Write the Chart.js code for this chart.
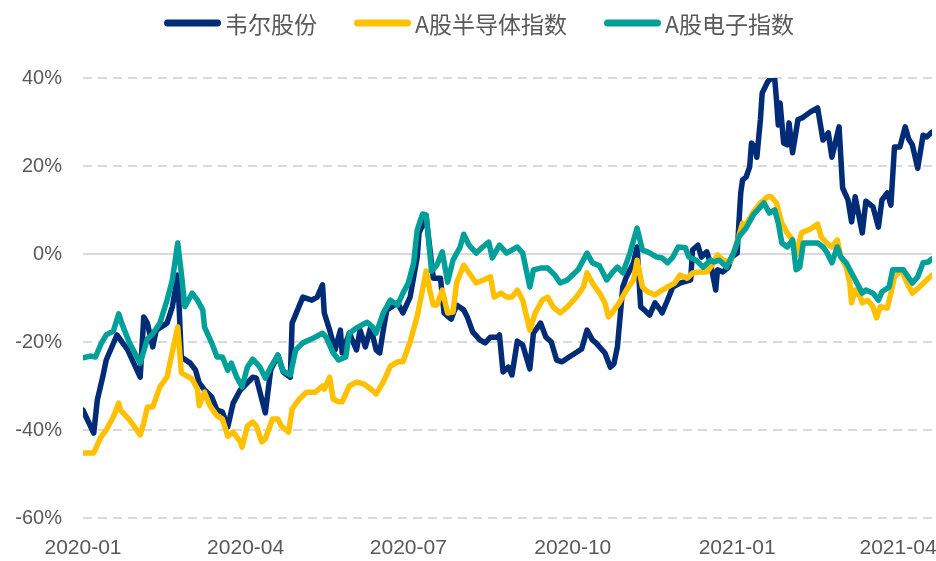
<!DOCTYPE html>
<html><head><meta charset="utf-8">
<script src="https://cdn.jsdelivr.net/npm/chart.js@4.4.1/dist/chart.umd.min.js"></script>
<style>html,body{margin:0;padding:0;background:#fff;overflow:hidden;}</style>
</head><body>
<canvas id="c" width="936" height="561"></canvas>
<script>
const seriesNames = ['韦尔股份', 'A股半导体指数', 'A股电子指数'];
const seriesColors = ['#002C77', '#FFC000', '#00A09A'];
// x values: calendar days since 2020-01-01
const tickDays = [0, 91, 182, 274, 366, 456];
const tickLabels = ['2020-01', '2020-04', '2020-07', '2020-10', '2021-01', '2021-04'];
const yTicks = [-60, -40, -20, 0, 20, 40];

const weirDays = [0,6,8,11,13,19,25,32,34,36,39,41,47,50,53,55,60,63,65,68,72,75,78,81,84,88,95,97,102,105,109,112,116,117,123,128,131,134,135,138,141,144,145,149,153,155,158,161,164,166,168,170,176,179,183,187,188,192,196,200,202,206,209,213,215,218,222,225,228,232,233,235,238,240,243,246,250,252,256,259,262,265,268,272,279,282,285,287,292,295,297,299,302,304,308,310,312,314,317,320,323,324,327,330,334,340,341,344,346,349,351,354,355,358,361,363,366,367,368,369,371,373,374,376,377,379,380,383,385,387,388,389,390,392,394,395,397,400,403,407,411,414,417,419,423,425,428,430,432,436,438,442,445,447,450,452,454,457,460,462,464,467,470,472,475];
const weirVals = [-35.5,-40.7,-33.2,-28.0,-24.1,-18.4,-21.8,-28.0,-14.3,-15.7,-21.1,-17.3,-15.7,-12.0,-4.8,-23.4,-24.8,-26.4,-29.3,-30.9,-32.5,-35.5,-35.9,-39.3,-33.9,-30.9,-28.0,-28.2,-36.1,-26.4,-23.0,-26.8,-28.0,-15.7,-9.8,-10.5,-9.8,-7.0,-13.4,-17.3,-21.8,-17.3,-22.5,-18.0,-21.8,-17.3,-21.1,-16.6,-21.8,-22.5,-17.3,-12.7,-11.1,-13.4,-9.8,-0.7,4.8,8.4,-5.5,-5.5,-13.4,-14.8,-11.6,-12.7,-14.3,-17.7,-19.5,-20.2,-18.9,-18.9,-18.4,-26.8,-25.7,-27.5,-19.8,-20.7,-26.1,-18.0,-15.7,-18.9,-20.0,-24.1,-24.5,-23.4,-21.6,-17.3,-19.5,-20.2,-22.5,-25.7,-25.0,-21.1,-7.5,-5.2,-2.0,1.6,-12.0,-12.7,-13.9,-11.1,-12.7,-13.4,-10.5,-7.5,-6.6,-5.9,0.9,2.0,-0.7,0.5,-2.0,-8.2,-3.6,-4.1,-3.0,-0.7,0.2,7.3,13.9,16.8,17.5,19.8,25.2,24.3,22.0,30.5,36.6,39.1,40.0,39.8,35.0,29.3,34.3,25.2,24.8,29.8,23.0,30.5,31.1,32.3,33.2,25.9,27.5,22.0,28.9,15.0,12.3,7.3,13.0,4.8,12.0,10.7,6.1,12.3,13.9,11.1,24.3,24.3,28.9,26.1,24.8,19.5,27.0,26.6,27.7];

const semiDays = [0,6,10,13,17,20,21,26,32,34,36,39,43,47,49,53,55,58,61,64,65,68,71,75,78,81,84,88,89,92,95,97,100,102,106,109,111,115,117,121,125,130,134,135,138,140,143,145,149,153,157,161,164,168,172,176,179,183,187,190,192,194,196,198,201,204,207,209,213,216,220,224,228,230,234,237,240,243,246,250,253,257,260,263,267,271,276,280,282,285,289,292,294,296,300,304,308,310,313,316,320,324,327,331,334,338,341,345,349,352,355,358,362,366,369,371,375,379,383,385,388,391,394,397,399,402,407,411,413,416,419,422,424,427,429,430,432,435,436,439,442,444,446,450,452,454,458,461,464,468,472,475];
const semiVals = [-45.2,-45.2,-41.6,-40.0,-37.0,-33.9,-35.5,-37.7,-41.1,-38.4,-34.8,-34.8,-30.2,-28.0,-24.1,-16.6,-27.0,-27.7,-28.4,-30.7,-34.5,-31.4,-34.5,-36.8,-37.5,-41.4,-40.5,-42.7,-43.9,-39.1,-38.2,-39.1,-42.7,-42.0,-37.5,-37.5,-39.1,-40.5,-35.2,-33.0,-31.4,-31.4,-30.0,-30.7,-28.0,-33.0,-33.6,-33.6,-30.0,-29.1,-29.5,-30.7,-31.8,-29.1,-25.5,-24.5,-24.5,-20.0,-14.1,-8.0,-3.9,-8.2,-11.6,-11.6,-8.2,-13.4,-13.2,-6.6,-2.5,-4.3,-6.6,-5.9,-5.2,-9.8,-8.9,-9.8,-9.8,-8.2,-10.5,-17.3,-13.4,-10.5,-9.8,-12.0,-13.4,-12.0,-9.8,-7.5,-4.3,-6.6,-8.9,-11.1,-14.3,-13.4,-11.1,-8.2,-5.9,-1.4,-7.5,-8.6,-9.3,-8.2,-7.5,-6.6,-4.8,-5.5,-4.3,-4.1,-4.1,-2.5,-0.2,-1.4,-1.8,2.7,7.0,6.6,9.5,11.6,13.0,13.0,11.6,7.0,4.8,3.2,-0.2,4.8,5.7,6.8,3.9,2.5,1.6,3.2,-0.7,-3.0,-6.6,-11.1,-8.2,-9.8,-11.1,-10.5,-12.0,-14.5,-12.0,-12.3,-8.9,-5.2,-3.6,-6.6,-8.9,-7.5,-5.9,-4.8];

const elecDays = [0,4,7,10,13,17,20,22,26,32,36,39,43,47,50,53,55,57,61,64,67,68,72,75,78,81,83,86,89,92,95,99,102,105,109,112,116,119,123,129,134,136,140,143,147,149,153,159,162,164,168,172,176,179,182,185,187,190,192,195,198,201,204,207,211,213,216,220,223,227,229,233,237,243,246,250,252,256,260,264,267,271,277,282,285,289,293,296,299,302,306,310,313,316,321,324,327,330,333,337,339,343,347,351,353,356,360,364,367,371,375,379,381,384,387,389,391,394,397,399,401,403,411,414,416,419,422,424,427,430,433,436,438,442,445,447,451,453,459,464,467,470,473,475];
const elecVals = [-23.6,-23.2,-23.4,-20.5,-18.4,-17.5,-13.6,-16.1,-20.2,-24.8,-19.3,-18.2,-15.7,-10.5,-5.9,2.5,-4.3,-12.0,-8.9,-10.5,-12.7,-16.6,-20.2,-23.4,-23.4,-26.4,-24.8,-28.0,-30.2,-25.7,-23.9,-25.7,-28.2,-25.7,-23.0,-26.6,-27.5,-21.8,-20.2,-19.1,-18.0,-18.9,-22.5,-24.1,-23.4,-18.0,-16.8,-15.5,-16.6,-18.0,-13.4,-10.5,-11.6,-8.9,-6.6,-2.0,5.5,9.1,8.9,-3.9,-2.5,0.5,-6.4,-1.4,1.6,4.5,2.0,0.2,1.4,2.7,-0.9,2.0,0.2,1.6,0.2,-7.5,-3.6,-3.2,-3.2,-4.8,-6.6,-5.9,-3.6,0.2,-2.0,-2.7,-5.9,-4.3,-3.0,-4.3,0.2,5.9,0.9,0.5,-0.7,-0.9,-2.0,-0.7,1.6,1.4,-0.7,-1.4,-3.0,-1.4,-1.8,-1.4,-3.0,0.2,3.9,5.9,8.9,10.7,11.6,9.3,10.0,7.0,2.5,1.6,3.2,-3.6,-3.0,2.5,2.5,1.6,0.5,-2.0,1.6,-0.7,-2.0,-4.3,-6.6,-8.9,-8.2,-8.9,-10.5,-8.6,-7.5,-3.6,-3.6,-6.6,-5.2,-2.0,-1.8,-1.1];

const seriesDays = [weirDays, semiDays, elecDays];
const seriesVals = [weirVals, semiVals, elecVals];

const topLegend = {
  id: 'topLegend',
  afterDraw(chart) {
    const ctx = chart.ctx;
    ctx.save();
    ctx.font = '23px "Noto Sans CJK SC"';
    const lineLen = 57, gap = 4, itemGap = 37, y = 23;
    const widths = seriesNames.map(n => ctx.measureText(n).width);
    const total = widths.reduce((a, w) => a + lineLen + gap + w, 0) + itemGap * (seriesNames.length - 1);
    let x = (chart.width - total) / 2 + 11;
    seriesNames.forEach((n, i) => {
      ctx.strokeStyle = seriesColors[i];
      ctx.lineWidth = 7;
      ctx.lineCap = 'round';
      ctx.beginPath();
      ctx.moveTo(x + 3.5, y);
      ctx.lineTo(x + lineLen - 3.5, y);
      ctx.stroke();
      x += lineLen + gap;
      ctx.fillStyle = '#595959';
      ctx.textBaseline = 'middle';
      ctx.textAlign = 'left';
      ctx.fillText(n, x, y + 1);
      x += widths[i] + itemGap;
    });
    ctx.restore();
  }
};

const yFont = { family: '"Liberation Sans", Arial, sans-serif', size: 20 };
const xFont = { family: '"Liberation Sans", Arial, sans-serif', size: 21 };

new Chart(document.getElementById('c'), {
  type: 'line',
  data: {
    datasets: seriesNames.map((name, i) => ({
      label: name,
      data: seriesDays[i].map((d, k) => ({ x: d, y: seriesVals[i][k] })),
      borderColor: seriesColors[i],
      backgroundColor: seriesColors[i],
      order: 3 - i
    }))
  },
  options: {
    responsive: false,
    animation: false,
    devicePixelRatio: 1,
    layout: { padding: { top: 78, right: 4, left: 0, bottom: 0 } },
    plugins: { legend: { display: false }, tooltip: { enabled: false } },
    elements: {
      point: { radius: 0 },
      line: { borderWidth: 5.5, tension: 0, borderJoinStyle: 'round', borderCapStyle: 'round', fill: false }
    },
    scales: {
      x: {
        type: 'linear', min: 0, max: 475,
        grid: { display: false, drawTicks: false },
        border: { display: false },
        afterBuildTicks: s => { s.ticks = tickDays.map(v => ({ value: v })); },
        afterFit: s => { s.height = 43; s.paddingLeft = 0; s.paddingRight = 0; },
        ticks: {
          padding: 18, maxRotation: 0, autoSkip: false, color: '#595959', font: xFont,
          callback: v => { const k = tickDays.indexOf(v); return k >= 0 ? tickLabels[k] : ''; }
        }
      },
      y: {
        min: -60, max: 40,
        afterBuildTicks: s => { s.ticks = yTicks.map(v => ({ value: v })); },
        afterFit: s => { s.width = 83; },
        grid: { color: '#D9D9D9', lineWidth: 2, drawTicks: false },
        border: { display: false, dash: ctx => (ctx.tick && ctx.tick.value === 0) ? [] : [9, 6] },
        ticks: { padding: 21, color: '#595959', font: yFont, callback: v => v + '%' }
      }
    }
  },
  plugins: [topLegend]
});
</script>
</body></html>
